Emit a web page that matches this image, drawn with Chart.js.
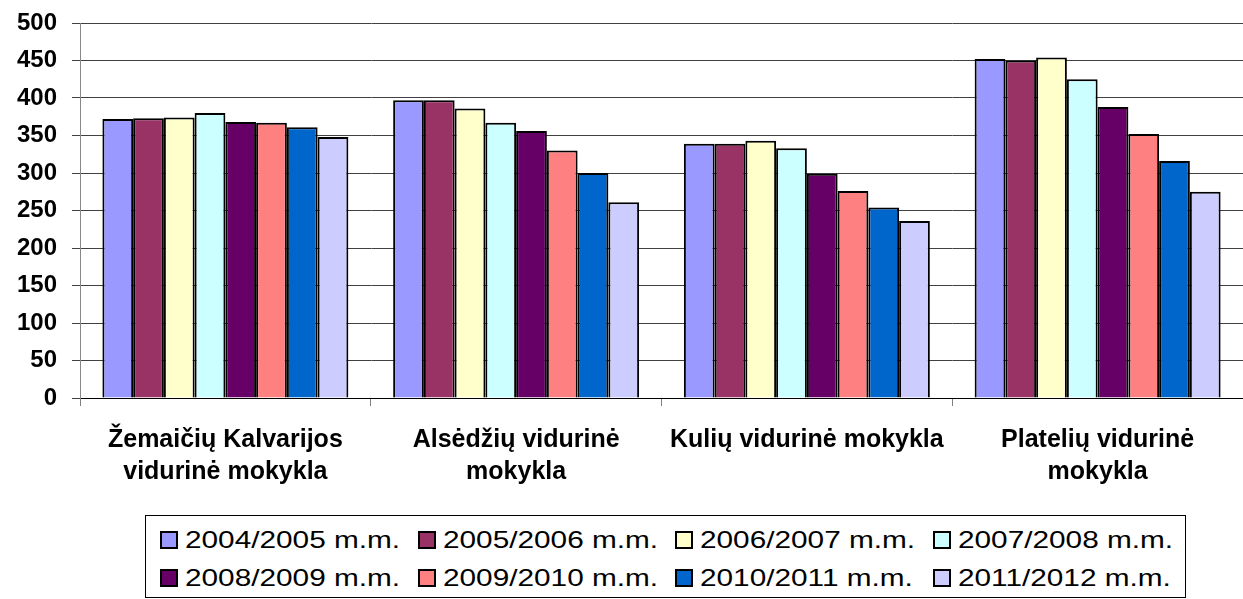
<!DOCTYPE html>
<html>
<head>
<meta charset="utf-8">
<script src="https://cdn.jsdelivr.net/npm/chart.js@4/dist/chart.umd.min.js"></script>
<style>
  html, body { margin: 0; padding: 0; background: #fff; }
  #wrap { position: relative; width: 1243px; height: 599px; }
  #chart { position: absolute; left: 0; top: 0; }
  #legend {
    position: absolute; left: 145px; top: 515px; width: 1041px; height: 83px;
    box-sizing: border-box; border: 1px solid #000;
    font-family: 'Liberation Sans', Arial, sans-serif; color: #000;
  }
  #legend .item { position: absolute; height: 28px; display: flex; align-items: center; white-space: nowrap; }
  #legend .box { width: 18px; height: 18px; box-sizing: border-box; border: 2px solid #000; flex: none; }
  #legend .txt { font-size: 24px; line-height: 28px; margin-left: 7px; display: inline-block;
    transform: scaleX(1.24); transform-origin: left center; }
</style>
</head>
<body>
<div id="wrap">
  <canvas id="chart" width="1243" height="513"></canvas>
  <div id="legend"></div>
</div>
<script>
// mokyklos (x ašis)
const schools = [
    ["Žemaičių Kalvarijos", "vidurinė mokykla"],
    ["Alsėdžių vidurinė", "mokykla"],
    "Kulių vidurinė mokykla",
    ["Platelių vidurinė", "mokykla"]
];

// mokslo metai (legenda)
const years = [
    "2004/2005 m.m.", "2005/2006 m.m.", "2006/2007 m.m.", "2007/2008 m.m.",
    "2008/2009 m.m.", "2009/2010 m.m.", "2010/2011 m.m.", "2011/2012 m.m."
];

// mokinių skaičius pagal metus
const y2004 = [372, 397, 339, 452];
const y2005 = [373, 397, 339, 450];
const y2006 = [374, 386, 343, 454];
const y2007 = [380, 367, 333, 425];
const y2008 = [368, 356, 299, 388];
const y2009 = [367, 330, 276, 352];
const y2010 = [361, 300, 254, 316];
const y2011 = [348, 261, 236, 275];

const yTicks = [0, 50, 100, 150, 200, 250, 300, 350, 400, 450, 500];

const colors = ["#9999FF", "#993366", "#FFFFCC", "#CCFFFF", "#660066", "#FF8080", "#0066CC", "#CCCCFF"];
const seriesData = [y2004, y2005, y2006, y2007, y2008, y2009, y2010, y2011];

Chart.defaults.font.family = "'Liberation Sans', Arial, sans-serif";
Chart.defaults.color = "#000";

const ctx = document.getElementById("chart").getContext("2d");
const chart = new Chart(ctx, {
    type: "bar",
    data: {
        labels: schools,
        datasets: years.map((y, i) => ({
            label: y,
            data: seriesData[i],
            backgroundColor: colors[i],
            borderColor: "#000",
            borderWidth: 2,
            categoryPercentage: 0.846,
            barPercentage: 1.0
        }))
    },
    options: {
        responsive: false,
        animation: false,
        devicePixelRatio: 1,
        layout: { padding: { top: 23, right: 0, bottom: 0, left: 0 } },
        plugins: {
            tooltip: { enabled: false },
            legend: { display: false }
        },
        scales: {
            x: {
                offset: true,
                grid: {
                    display: true,
                    offset: true,
                    drawOnChartArea: false,
                    drawTicks: true,
                    tickLength: 8,
                    color: "#808080"
                },
                border: { display: true, color: "#000", width: 1 },
                ticks: {
                    autoSkip: false,
                    maxRotation: 0,
                    minRotation: 0,
                    padding: 18,
                    color: "#000",
                    font: { size: 25, weight: "bold", lineHeight: 1.28 }
                },
                afterFit(scale) { scale.height = 115; }
            },
            y: {
                min: 0,
                max: 500,
                afterBuildTicks(scale) { scale.ticks = yTicks.map(v => ({ value: v })); },
                grid: {
                    color: "#404040",
                    lineWidth: 1,
                    drawTicks: true,
                    tickLength: 8,
                    tickColor: "#404040"
                },
                border: { display: true, color: "#888", width: 1 },
                ticks: {
                    padding: 15,
                    color: "#000",
                    font: { size: 24, weight: "bold" }
                },
                afterFit(scale) {
                    scale.width = 80;
                    // tick padding neturi stumti grafiko ploto žemyn
                    scale.paddingTop = 0;
                    scale.paddingBottom = 0;
                }
            }
        }
    }
});

// legenda iš duomenų rinkinių, 4 stulpeliai
const legendEl = document.getElementById("legend");
chart.data.datasets.forEach((ds, i) => {
    const col = i % 4, row = Math.floor(i / 4);
    const item = document.createElement("div");
    item.className = "item";
    item.style.left = (14 + col * 257.5) + "px";
    item.style.top = (10 + row * 38) + "px";
    const box = document.createElement("span");
    box.className = "box";
    box.style.background = ds.backgroundColor;
    const txt = document.createElement("span");
    txt.className = "txt";
    txt.textContent = ds.label;
    item.appendChild(box);
    item.appendChild(txt);
    legendEl.appendChild(item);
});
</script>
</body>
</html>
